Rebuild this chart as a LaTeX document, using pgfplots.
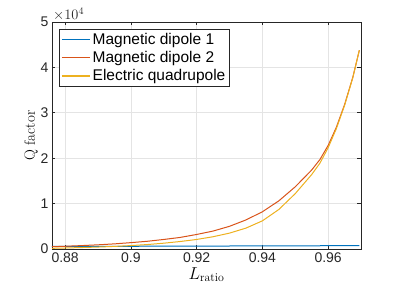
\documentclass[border=0pt]{standalone}
\usepackage{pgfplots}
\pgfplotsset{compat=1.18}
\usepackage{fontspec}
\newfontfamily\arial{Liberation Sans}
\definecolor{mblue}{RGB}{0,114,189}
\definecolor{mred}{RGB}{217,83,25}
\definecolor{myel}{RGB}{237,177,32}
\definecolor{axgray}{RGB}{38,38,38}
\definecolor{gridgray}{RGB}{228,228,228}
\begin{document}
\begin{tikzpicture}
\begin{axis}[
  name=ax,
  scale only axis,
  width=309pt, height=227pt,
  xmin=0.876, xmax=0.97,
  ymin=0, ymax=50000,
  xtick={0.88,0.9,0.92,0.94,0.96},
  xticklabels={0.88,0.9,0.92,0.94,0.96},
  ytick={0,10000,20000,30000,40000,50000},
  yticklabels={0,1,2,3,4,5},
  scaled y ticks=false,
  scaled x ticks=false,
  tick label style={font=\arial\fontsize{14}{16}\selectfont, text=axgray},
  tick align=inside,
  major tick length=3.5pt,
  tick style={axgray, line width=0.6pt},
  axis line style={axgray, line width=0.6pt},
  grid=major,
  major grid style={gridgray, line width=0.7pt},
  xlabel={$L_{\mathrm{ratio}}$},
  ylabel={Q factor},
  xlabel style={font=\fontsize{17}{19}\selectfont, yshift=2pt},
  ylabel style={font=\fontsize{15}{17}\selectfont, yshift=-4pt},
  legend style={at={(rel axis cs:0,1)}, anchor=north west, xshift=7pt, yshift=-7pt,
    font=\arial\fontsize{15.5}{17}\selectfont, draw=axgray, fill=white, text=black, line width=0.6pt,
    row sep=1.5pt, inner sep=2pt},
  legend cell align=left,
  legend image code/.code={\draw[#1, line width=1.4pt] (0pt,0.3pt) -- (28pt,0.3pt);},
  every axis plot/.append style={line width=1pt},
]
\addplot[mblue] coordinates {
(0.876,550) (0.89,580) (0.90,600) (0.91,620) (0.92,640) (0.93,660) (0.94,680) (0.95,700) (0.96,720) (0.9695,740)
};
\addlegendentry{Magnetic dipole 1}
\addplot[mred] coordinates {
(0.876,500) (0.88,600) (0.885,750) (0.89,920) (0.895,1130) (0.90,1400) (0.905,1700) (0.91,2100) (0.915,2550) (0.92,3200) (0.925,3950) (0.93,5000) (0.935,6400) (0.94,8200) (0.945,10600) (0.95,13700) (0.955,17400) (0.9575,19700) (0.96,22800) (0.9625,26800) (0.965,31800) (0.9675,37800) (0.9695,43800)
};
\addlegendentry{Magnetic dipole 2}
\addplot[myel] coordinates {
(0.876,150) (0.88,220) (0.885,320) (0.89,430) (0.895,570) (0.90,750) (0.905,980) (0.91,1280) (0.915,1650) (0.92,2100) (0.925,2700) (0.93,3500) (0.935,4600) (0.94,6200) (0.945,8700) (0.95,12200) (0.955,16400) (0.9575,18900) (0.96,22300) (0.9625,26500) (0.965,31600) (0.9675,37700) (0.9695,43800)
};
\addlegendentry{Electric quadrupole}
\end{axis}
\node[anchor=south west, inner sep=1pt, font=\arial\fontsize{14}{16}\selectfont, text=axgray] at (ax.north west) {$\times10^{4}$};
\path (ax.south west) ++(-52pt,-50pt) rectangle ([xshift=38pt,yshift=22pt]ax.north east);
\end{tikzpicture}
\end{document}
